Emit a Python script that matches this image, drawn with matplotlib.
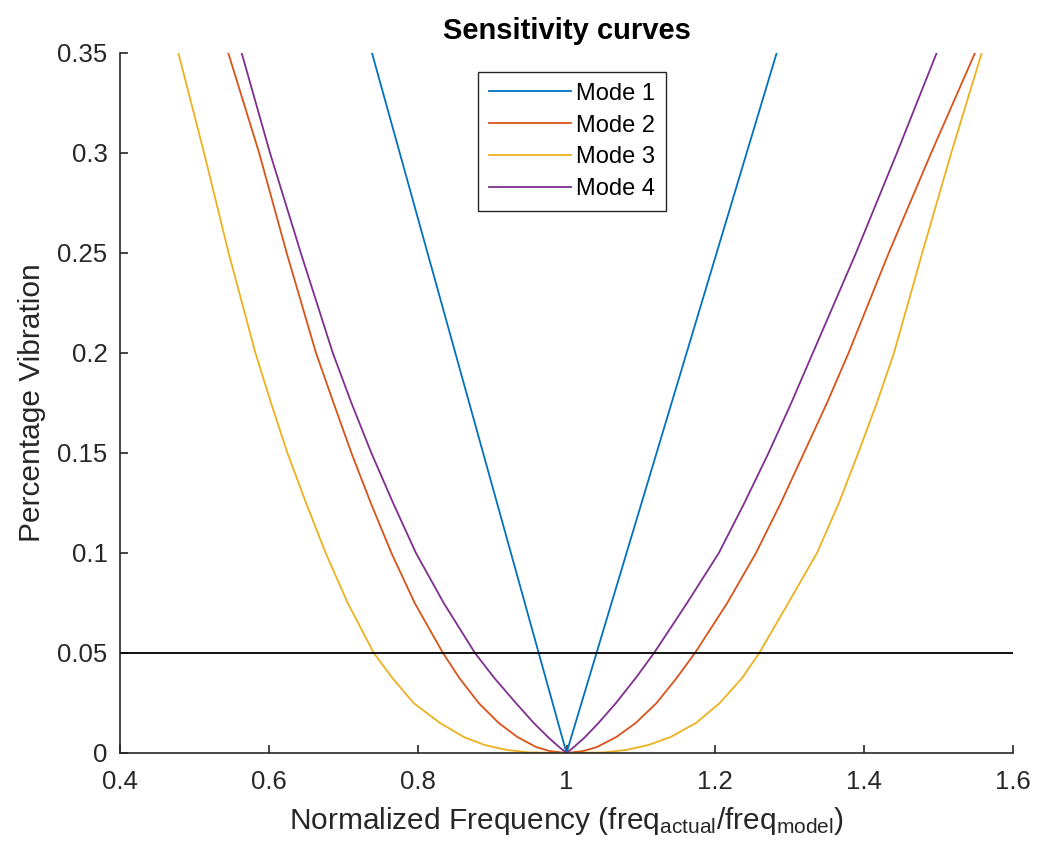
import matplotlib
matplotlib.use("Agg")
import matplotlib.pyplot as plt

plt.rcParams['font.family'] = ['Liberation Sans', 'DejaVu Sans']
plt.rcParams['mathtext.default'] = 'regular'

# values (normalized frequency, percentage vibration)
mode1_f = [0.7386, 1.0, 1.2824]
mode1_v = [0.35, 0.0, 0.35]

mode2_f = [0.5455, 0.587, 0.624, 0.6634, 0.687, 0.711, 0.737, 0.7647, 0.796, 0.834, 0.856, 0.882,
           0.909, 0.934, 0.959, 0.977, 1.0,
           1.023, 1.041, 1.067, 1.093, 1.121, 1.148, 1.1726, 1.216, 1.2546, 1.288, 1.319, 1.35,
           1.379, 1.433, 1.49, 1.5489]
mode2_v = [0.35, 0.30, 0.25, 0.20, 0.175, 0.15, 0.125, 0.10, 0.075, 0.05, 0.0375, 0.025,
           0.015, 0.008, 0.003, 0.001, 0.0,
           0.001, 0.003, 0.008, 0.015, 0.025, 0.0375, 0.05, 0.075, 0.10, 0.125, 0.15, 0.175,
           0.20, 0.25, 0.30, 0.35]

mode3_f = [0.4784, 0.513, 0.546, 0.582, 0.603, 0.625, 0.650, 0.6764, 0.706, 0.741, 0.766, 0.7945,
           0.83, 0.862, 0.89, 0.92, 0.95, 1.0,
           1.05, 1.08, 1.11, 1.14, 1.174, 1.206, 1.236, 1.259, 1.298, 1.3366, 1.366, 1.392,
           1.417, 1.44, 1.478, 1.517, 1.558]
mode3_v = [0.35, 0.30, 0.25, 0.20, 0.175, 0.15, 0.125, 0.10, 0.075, 0.05, 0.0375, 0.025,
           0.015, 0.008, 0.004, 0.0015, 0.0003, 0.0,
           0.0003, 0.0015, 0.004, 0.008, 0.015, 0.025, 0.0375, 0.05, 0.075, 0.10, 0.125, 0.15,
           0.175, 0.20, 0.25, 0.30, 0.35]

mode4_f = [0.5635, 0.6016, 0.643, 0.686, 0.711, 0.7378, 0.767, 0.7977, 0.835, 0.877, 0.903, 0.932,
           0.956, 0.975, 0.99, 1.0,
           1.01, 1.025, 1.043, 1.0665, 1.093, 1.1176, 1.162, 1.2047, 1.239, 1.2715, 1.302,
           1.331, 1.389, 1.444, 1.4974]
mode4_v = [0.35, 0.30, 0.25, 0.20, 0.175, 0.15, 0.125, 0.10, 0.075, 0.05, 0.0375, 0.025,
           0.015, 0.008, 0.003, 0.0,
           0.003, 0.008, 0.015, 0.025, 0.0375, 0.05, 0.075, 0.10, 0.125, 0.15, 0.175,
           0.20, 0.25, 0.30, 0.35]

labels = ['Mode 1', 'Mode 2', 'Mode 3', 'Mode 4']
colors = ['#0072BD', '#D95319', '#EDB120', '#7E2F8E']
threshold = 0.05

xticks = [0.4, 0.6, 0.8, 1.0, 1.2, 1.4, 1.6]
xticklabels = ['0.4', '0.6', '0.8', '1', '1.2', '1.4', '1.6']
yticks = [0, 0.05, 0.1, 0.15, 0.2, 0.25, 0.3, 0.35]
yticklabels = ['0', '0.05', '0.1', '0.15', '0.2', '0.25', '0.3', '0.35']

fig = plt.figure(figsize=(10.41, 8.5), dpi=100)
ax = fig.add_axes([120/1041, 97/850, 893/1041, 700/850])

curves = [(mode1_f, mode1_v), (mode2_f, mode2_v), (mode3_f, mode3_v), (mode4_f, mode4_v)]
for (f, v), lab, c in zip(curves, labels, colors):
    ax.plot(f, v, color=c, lw=1.3, label=lab)

ax.plot([0.4, 1.6], [threshold, threshold], color='black', lw=1.3)

ax.set_xlim(0.4, 1.6)
ax.set_ylim(0, 0.35)
ax.set_xticks(xticks)
ax.set_xticklabels(xticklabels)
ax.set_yticks(yticks)
ax.set_yticklabels(yticklabels)

gray = '#262626'
for s in ['top', 'right']:
    ax.spines[s].set_visible(False)
for s in ['left', 'bottom']:
    ax.spines[s].set_color(gray)
    ax.spines[s].set_linewidth(1.2)
ax.tick_params(direction='in', length=6, width=1.2, colors=gray, labelsize=18.5)
ax.tick_params(axis='x', pad=12)
ax.tick_params(axis='y', pad=9)

ax.set_xlabel('Normalized Frequency (freq$_{actual}$/freq$_{model}$)', fontsize=21.5, color=gray, labelpad=8)
ax.set_ylabel('Percentage Vibration', fontsize=21.5, color=gray, labelpad=8)
ax.set_title('Sensitivity curves', fontsize=21, fontweight='bold', pad=10)

leg = ax.legend(loc='upper left', bbox_to_anchor=(478/1041, 1 - 72/850), bbox_transform=fig.transFigure,
                borderaxespad=0, fontsize=17, fancybox=False, framealpha=1, edgecolor=gray,
                handlelength=3.5, labelspacing=0.42, borderpad=0.45, handletextpad=0.2)
leg.get_frame().set_linewidth(1.0)

fig.savefig('out.png', dpi=100)
